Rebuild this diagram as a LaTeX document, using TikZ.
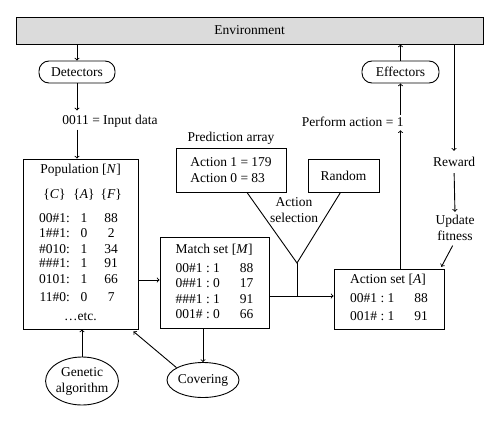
\documentclass[tikz,border=0pt]{standalone}
\usepackage{fontspec}
\setmainfont{Liberation Serif}
\usetikzlibrary{positioning,shapes.geometric}

\begin{document}
\begin{tikzpicture}
[
x=1pt, y=-1pt,
font=\fontsize{13.5}{16}\selectfont,
line width=0.9pt,
box-a/.style={rectangle, draw, inner sep=0pt},
box-b/.style={rectangle, draw, rounded corners=10pt, minimum width=76pt, minimum height=22pt},
box-c/.style={ellipse, draw, inner sep=-0.5pt, align=center},
box-env/.style={rectangle, draw, fill=black!14, minimum width=467pt, minimum height=27pt},
text-a/.style={inner sep=0pt, align=center}
]
\useasboundingbox (0,0) rectangle (500,423);
\node (env)     [box-env]                    at (249.5,30.5) {Environment};
\node (det)     [box-b]                      at (77,72)      {Detectors};
\node (eff)     [box-b, minimum width=77pt]  at (400.5,72)   {Effectors};
\node (input)   [text-a]                     at (110,121)    {0011 = Input data};
\node (perform) [text-a, anchor=east]        at (404,122)    {Perform action = 1};
\node (pop)     [box-a, minimum width=115pt, minimum height=170pt] at (80.5,244)
  {\begin{tabular}{@{}r@{:\ }c@{\hspace{6pt}}c@{}}
   \multicolumn{3}{@{}c@{}}{Population [\textit{N}]}\\[9pt]
   \multicolumn{1}{@{}c@{\ }}{\{\textit{C}\}} & \{\textit{A}\} & \{\textit{F}\}\\[8pt]
   00\#1 & 1 & 88\\[-1pt]
   1\#\#1 & 0 & 2\\
   \#010 & 1 & 34\\[-2pt]
   \#\#\#1 & 1 & 91\\
   0101 & 1 & 66\\[2pt]
   11\#0 & 0 & 7\\[3pt]
   \multicolumn{3}{@{}c@{}}{\ldots etc.}
   \end{tabular}};
\node (match)   [box-a, minimum width=109pt, minimum height=91pt] at (214.5,282.5)
  {\begin{tabular}{@{}l@{\ :\ }l@{\hspace{20pt}}l@{}}
   \multicolumn{3}{@{}l@{}}{Match set [\textit{M}]}\\[3pt]
   00\#1 & 1 & 88\\[-1pt]
   0\#\#1 & 0 & 17\\
   \#\#\#1 & 1 & 91\\[-1pt]
   001\# & 0 & 66
   \end{tabular}};
\node (action)  [box-a, minimum width=110pt, minimum height=60pt] at (389,299)
  {\begin{tabular}{@{}l@{\ :\ }l@{\hspace{20pt}}l@{}}
   \multicolumn{3}{@{}l@{}}{Action set [\textit{A}]}\\[3pt]
   00\#1 & 1 & 88\\[2pt]
   001\# & 1 & 91
   \end{tabular}};
\node (pred)    [box-a, minimum width=110pt, minimum height=44pt, align=left] at (231,170)
  {Action 1 = 179\\Action 0 = 83};
\node (pred-id) [text-a, above = 3pt of pred] {Prediction array};
\node (rand)    [box-a, minimum width=71pt, minimum height=33pt] at (343.5,175.5) {Random};
\node (select)  [text-a]                     at (294,210)    {Action\\selection};
\node (reward)  [text-a]                     at (454,162)    {Reward};
\node (update)  [text-a]                     at (455,228)    {Update\\fitness};
\node (ga)      [box-c, minimum width=71pt, minimum height=48pt] at (82,381) {Genetic\\algorithm};
\node (cov)     [box-c, minimum width=72pt, minimum height=35pt] at (203,380) {Covering};
\coordinate (sel)  at (297,263);
\coordinate (join) at (297,296);
\draw [ ->] (det.north |- env.south) -- (det.north);
\draw [ ->, shorten >=4pt] (det.south) -- (det.south |- input.north);
\draw [ ->, shorten <=2pt] (det.south |- input.south) -- (det.south |- pop.north);
\draw [ ->] ([yshift=-36pt]pop.east) -- ([yshift=-36pt]pop.east -| match.west);
\draw ([xshift=16pt]pred.south) -- (sel) -- ([xshift=-3pt]rand.south);
\draw (sel) -- (join);
\draw [ ->] (match.east |- join) -- (action.west |- join);
\draw [ ->, shorten >=3pt] (eff.south |- action.north) -- (eff.south |- perform.south);
\draw [ ->, shorten <=2pt] (eff.south |- perform.north) -- (eff.south);
\draw [ ->] (eff.north) -- (eff.north |- env.south);
\draw [ ->, shorten >=6pt] (reward.north |- env.south) -- (reward.north);
\draw [ ->, shorten <=6pt, shorten >=3pt] (reward.south) -- (update.north);
\draw [ ->, shorten <=5pt, shorten >=2pt] (update.south) -- ([xshift=-4pt]action.north east);
\draw [ ->] (cov.north |- match.south) -- (cov.north);
\draw [ ->] (cov.155) -- ([xshift=-5pt,yshift=-2pt]pop.south east);
\draw [ ->] (ga.north) -- (ga.north |- pop.south);
\end{tikzpicture}
\end{document}
